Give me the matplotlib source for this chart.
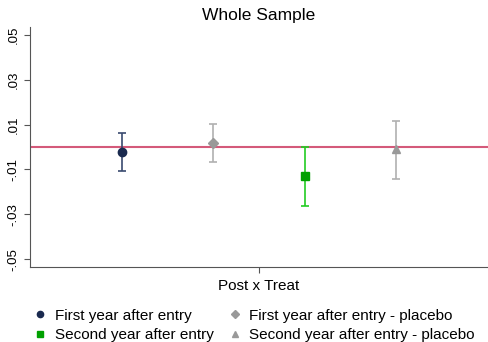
import matplotlib.pyplot as plt
import matplotlib

matplotlib.rcParams['font.family'] = ['Liberation Sans', 'DejaVu Sans']

labels = ['First year after entry', 'First year after entry - placebo',
          'Second year after entry', 'Second year after entry - placebo']
xpos = [1, 2, 3, 4]
coef = [-0.0021, 0.0019, -0.0131, -0.0011]
ci_low = [-0.0107, -0.0067, -0.0263, -0.0141]
ci_high = [0.0064, 0.0104, 0.0000, 0.0115]
yticks = [-0.05, -0.03, -0.01, 0.01, 0.03, 0.05]
yticklabels = ['-.05', '-.03', '-.01', '.01', '.03', '.05']

markers = ['o', 'D', 's', '^']
mcolors = ['#1a2a4f', '#999999', '#00a000', '#999999']
lcolors = ['#3a4a6f', '#b0b0b0', '#22cc22', '#b0b0b0']
msizes = [6, 5.5, 6, 6]

fig = plt.figure(figsize=(4.88, 3.42), dpi=100)
ax = fig.add_axes([30 / 488, 1 - 267 / 342, 458 / 488, 240 / 342])

handles = {}
for i in range(4):
    ax.errorbar([xpos[i]], [coef[i]],
                yerr=[[coef[i] - ci_low[i]], [ci_high[i] - coef[i]]],
                fmt='none', ecolor=lcolors[i], elinewidth=1.2, capsize=3, capthick=1.2, zorder=3)
    h, = ax.plot([xpos[i]], [coef[i]], marker=markers[i], color=mcolors[i],
                 markersize=msizes[i], linestyle='none', zorder=4)
    handles[labels[i]] = h

ax.axhline(0, color='#d45a7a', lw=1.5, zorder=2)

ax.set_xlim(0, 5)
ax.set_ylim(-0.0535, 0.0535)
ax.set_yticks(yticks)
ax.set_yticklabels(yticklabels, rotation=90, va='center', fontsize=9.5)
ax.set_xticks([2.5])
ax.set_xticklabels(['Post x Treat'], fontsize=11)
ax.spines['top'].set_visible(False)
ax.spines['right'].set_visible(False)
ax.spines['left'].set_color('#555555')
ax.spines['bottom'].set_color('#555555')
ax.tick_params(axis='both', color='#555555', length=4)
ax.tick_params(axis='x', pad=5)
ax.set_title('Whole Sample', fontsize=12.5, pad=5)

order = [labels[0], labels[2], labels[1], labels[3]]
fig.legend([handles[l] for l in order], order, loc='lower center',
           bbox_to_anchor=(0.52, -0.04), ncol=2, frameon=False, fontsize=11,
           handletextpad=0.45, columnspacing=0.9, labelspacing=0.35,
           handlelength=1.0, markerscale=0.75)

fig.savefig('out.png', dpi=100)
